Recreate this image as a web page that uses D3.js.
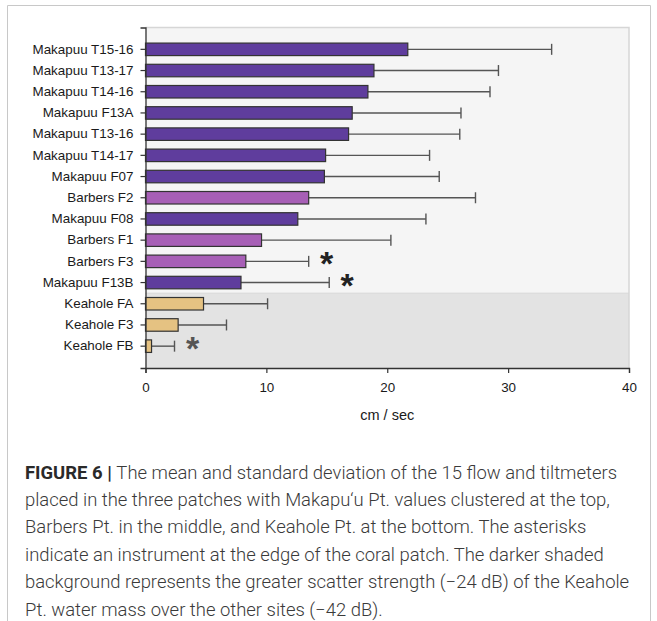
<!DOCTYPE html>
<html>
<head>
<meta charset="utf-8">
<script src="https://cdn.jsdelivr.net/npm/d3@7/dist/d3.min.js"></script>
<style>
  html, body { margin: 0; padding: 0; background: #ffffff; }
  svg { display: block; }
</style>
</head>
<body>
<div id="chart"></div>
<script>
// ---- data ----
const categories = ["Makapuu T15-16","Makapuu T13-17","Makapuu T14-16","Makapuu F13A","Makapuu T13-16","Makapuu T14-17","Makapuu F07","Barbers F2","Makapuu F08","Barbers F1","Barbers F3","Makapuu F13B","Keahole FA","Keahole F3","Keahole FB"];
const sites = ["Makapuu","Makapuu","Makapuu","Makapuu","Makapuu","Makapuu","Makapuu","Barbers","Makapuu","Barbers","Barbers","Makapuu","Keahole","Keahole","Keahole"];
const means = [21.7, 18.9, 18.4, 17.1, 16.8, 14.9, 14.8, 13.5, 12.6, 9.6, 8.3, 7.9, 4.8, 2.7, 0.5];
const sds = [11.9, 10.3, 10.1, 9.0, 9.2, 8.6, 9.5, 13.8, 10.6, 10.7, 5.2, 7.3, 5.3, 4.0, 1.9];
const edge = [false,false,false,false,false,false,false,false,false,false,true,true,false,false,true];
const xTicks = [0, 10, 20, 30, 40];
const xLabel = "cm / sec";
const captionBold = "FIGURE 6 | ";
const captionLines = [
  "The mean and standard deviation of the 15 flow and tiltmeters",
  "placed in the three patches with Makapu\u2018u Pt. values clustered at the top,",
  "Barbers Pt. in the middle, and Keahole Pt. at the bottom. The asterisks",
  "indicate an instrument at the edge of the coral patch. The darker shaded",
  "background represents the greater scatter strength (\u221224 dB) of the Keahole",
  "Pt. water mass over the other sites (\u221242 dB)."
];
const siteColors = { Makapuu: "#5f3d9d", Barbers: "#a75fb6", Keahole: "#e5c282" };

// ---- layout ----
const W = 657, H = 621;
const plot = { left: 145.5, right: 629, top: 27.5, bottom: 368 };

const svg = d3.select("#chart").append("svg").attr("width", W).attr("height", H);

// frame
svg.append("path")
  .attr("d", `M7.5,${H} L7.5,5.5 L650.5,5.5 L650.5,${H}`)
  .attr("fill", "none").attr("stroke", "#c8c8c8").attr("stroke-width", 1);

const x = d3.scaleLinear().domain([0, 40]).range([plot.left, plot.right]);
const y = d3.scaleBand().domain(categories).range([plot.top, plot.bottom])
  .paddingInner(0.41).paddingOuter(0.735);

const data = categories.map((c, i) => ({ cat: c, site: sites[i], mean: means[i], sd: sds[i], edge: edge[i] }));

// backgrounds
svg.append("rect")
  .attr("x", plot.left).attr("y", plot.top)
  .attr("width", plot.right - plot.left).attr("height", plot.bottom - plot.top)
  .attr("fill", "#f5f5f5");
const firstKeahole = categories[sites.indexOf("Keahole")];
const shadeTop = y(firstKeahole) - y.step() * y.paddingInner() / 2;
svg.append("rect")
  .attr("x", plot.left).attr("y", shadeTop)
  .attr("width", plot.right - plot.left).attr("height", plot.bottom - shadeTop)
  .attr("fill", "#e3e3e3");
svg.append("line")
  .attr("x1", plot.left).attr("x2", plot.right).attr("y1", shadeTop).attr("y2", shadeTop)
  .attr("stroke", "#d8d8d8").attr("stroke-width", 1);
// plot border (top/right)
svg.append("path")
  .attr("d", `M${plot.left},${plot.top} L${plot.right},${plot.top} L${plot.right},${plot.bottom}`)
  .attr("fill", "none").attr("stroke", "#d6d6d6").attr("stroke-width", 1.5);

// error bars
const eb = svg.append("g").attr("stroke", "#555").attr("stroke-width", 1.4);
eb.selectAll("line.err").data(data).join("line")
  .attr("class", "err")
  .attr("x1", d => x(d.mean)).attr("x2", d => x(d.mean + d.sd))
  .attr("y1", d => y(d.cat) + y.bandwidth() / 2).attr("y2", d => y(d.cat) + y.bandwidth() / 2);
eb.selectAll("line.cap").data(data).join("line")
  .attr("class", "cap")
  .attr("x1", d => x(d.mean + d.sd)).attr("x2", d => x(d.mean + d.sd))
  .attr("y1", d => y(d.cat) + y.bandwidth() / 2 - 5.5).attr("y2", d => y(d.cat) + y.bandwidth() / 2 + 5.5);

// bars
svg.append("g").selectAll("rect").data(data).join("rect")
  .attr("x", x(0)).attr("y", d => y(d.cat))
  .attr("width", d => x(d.mean) - x(0)).attr("height", y.bandwidth())
  .attr("fill", d => siteColors[d.site])
  .attr("stroke", "#333").attr("stroke-width", 1.2);

// asterisks
svg.append("g").selectAll("text").data(data.filter(d => d.edge)).join("text")
  .attr("x", d => x(d.mean + d.sd) + 18)
  .attr("y", d => y(d.cat) + y.bandwidth() / 2 + 14)
  .attr("text-anchor", "middle")
  .attr("font-family", "Liberation Sans, Arial, sans-serif")
  .attr("font-size", 34).attr("font-weight", "bold")
  .attr("fill", d => d.site === "Keahole" ? "#555" : "#222")
  .text("*");

// axes
const yAxis = svg.append("g").attr("transform", `translate(${plot.left},0)`)
  .call(d3.axisLeft(y).tickSize(5).tickPadding(7));
const xAxis = svg.append("g").attr("transform", `translate(0,${plot.bottom})`)
  .call(d3.axisBottom(x).tickValues(xTicks).tickSize(5).tickPadding(9).tickSizeOuter(5));
[yAxis, xAxis].forEach(a => {
  a.selectAll("path.domain").attr("stroke", "#333").attr("stroke-width", 1.3);
  a.selectAll(".tick line").attr("stroke", "#333").attr("stroke-width", 1.2);
  a.selectAll(".tick text").attr("fill", "#1a1a1a")
    .attr("font-family", "Liberation Sans, Arial, sans-serif").attr("font-size", 13.4);
});

svg.append("text")
  .attr("x", (plot.left + plot.right) / 2).attr("y", 420)
  .attr("text-anchor", "middle")
  .attr("font-family", "Liberation Sans, Arial, sans-serif").attr("font-size", 14.5)
  .attr("fill", "#1a1a1a")
  .text(xLabel);

// caption: one common horizontal squeeze, fitted on the first line
const cap = svg.append("g")
  .attr("font-family", "Roboto, Liberation Sans, sans-serif")
  .attr("font-size", 17.5).attr("font-weight", 300).attr("fill", "#3a3a3a");
const texts = captionLines.map((ln, i) => {
  const t = cap.append("text")
    .attr("x", 25).attr("y", 478.5 + i * 27.4);
  if (i === 0) {
    t.append("tspan").attr("font-weight", "bold").attr("fill", "#2a2a2a").text(captionBold);
  }
  t.append("tspan").text(ln);
  return t;
});
const ratio = (617 - 25) / texts[0].node().getComputedTextLength();
texts.forEach(t => {
  const w = t.node().getComputedTextLength();
  t.attr("textLength", w * ratio).attr("lengthAdjust", "spacingAndGlyphs");
});
</script>
</body>
</html>
